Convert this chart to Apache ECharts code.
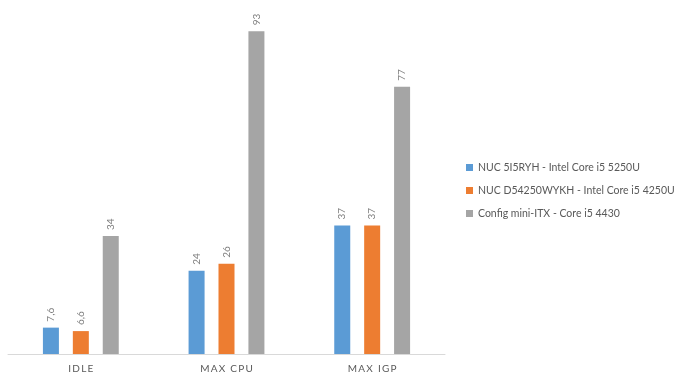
<!DOCTYPE html>
<html><head><meta charset="utf-8">
<script src="https://cdn.jsdelivr.net/npm/echarts@6/dist/echarts.min.js"></script>
<style>html,body{margin:0;padding:0;background:#fff}#c{width:678px;height:379px}</style>
</head><body><div id="c"></div>
<script>
var categories = ['IDLE', 'MAX CPU', 'MAX IGP'];
var seriesNames = ['NUC 5I5RYH - Intel Core i5 5250U', 'NUC D54250WYKH - Intel Core i5 4250U', 'Config mini-ITX - Core i5 4430'];
var nuc5 = [7.6, 24, 37];
var nucD = [6.6, 26, 37];
var miniItx = [34, 93, 77];
var colors = ['#5B9BD5', '#ED7D31', '#A5A5A5'];

var chart = echarts.init(document.getElementById('c'));
var label = {
  show: true, position: 'top', rotate: 90, align: 'left', verticalAlign: 'middle',
  distance: 6, color: '#7F7F7F', fontSize: 10, fontFamily: 'Lato',
  formatter: function (p) { return String(p.value).replace('.', ','); }
};
function mk(i, data) {
  return { name: seriesNames[i], type: 'bar', data: data, barWidth: 16, barGap: '87%',
    itemStyle: { color: colors[i] }, label: label };
}
chart.setOption({
  animation: false,
  grid: { left: 8, right: 233, top: 7, bottom: 25 },
  legend: { orient: 'vertical', left: 461, top: 157, itemWidth: 7, itemHeight: 7, itemGap: 12,
    padding: [5, 0, 5, 5], icon: 'rect',
    textStyle: { color: '#595959', fontSize: 10.5, fontFamily: 'Lato' },
    data: seriesNames },
  xAxis: { type: 'category', data: categories,
    axisLine: { lineStyle: { color: '#D9D9D9' } }, axisTick: { show: false },
    axisLabel: { color: '#595959', fontSize: 10, fontFamily: 'Lato', margin: 10,
      formatter: function (v) { return v.split('').join('\u2009'); } } },
  yAxis: { type: 'value', min: 0, max: 100, show: false, splitLine: { show: false } },
  series: [mk(0, nuc5), mk(1, nucD), mk(2, miniItx)]
});
</script></body></html>
